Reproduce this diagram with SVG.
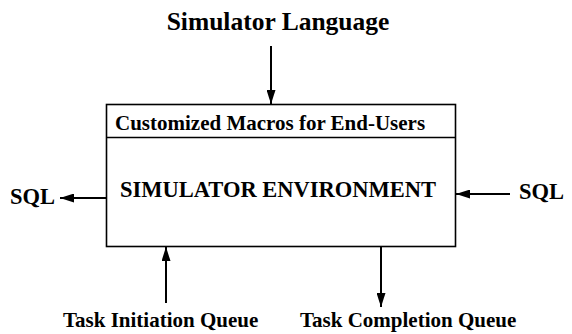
<svg xmlns="http://www.w3.org/2000/svg" width="572" height="334" viewBox="0 0 572 334">
  <defs>
    <marker id="head" viewBox="0 0 14 9" refX="14" refY="4.5" markerWidth="14" markerHeight="9" markerUnits="userSpaceOnUse" orient="auto">
      <path d="M0,0 L14,4.5 L0,9 Z" fill="#000"/>
    </marker>
  </defs>
  <style>
    text { font-family: "Liberation Serif", "Times New Roman", serif; font-weight: bold; fill: #000; }
    .title { font-size: 25.5px; }
    .label { font-size: 21px; }
    .big { font-size: 22.5px; }
    .box { fill: #fff; stroke: #000; stroke-width: 1.6; }
    .conn { stroke: #000; stroke-width: 2; fill: none; marker-end: url(#head); }
  </style>
  <rect width="572" height="334" fill="#fff"/>

  <!-- main environment box with macro header -->
  <g id="environment">
    <rect class="box" x="106.5" y="104.5" width="349" height="142"/>
    <line x1="106.5" y1="137.5" x2="455.5" y2="137.5" stroke="#000" stroke-width="1.4"/>
    <text class="label" x="115" y="130">Customized Macros for End-Users</text>
    <text class="big" x="278" y="197" text-anchor="middle">SIMULATOR ENVIRONMENT</text>
  </g>

  <!-- external sources and sinks -->
  <g id="simulator-language">
    <text class="title" x="278" y="30" text-anchor="middle">Simulator Language</text>
  </g>
  <g id="sql-out">
    <text class="big" x="10" y="204">SQL</text>
  </g>
  <g id="sql-in">
    <text class="big" x="519" y="199">SQL</text>
  </g>
  <g id="task-initiation">
    <text class="label" x="63" y="327">Task Initiation Queue</text>
  </g>
  <g id="task-completion">
    <text class="label" x="300" y="327">Task Completion Queue</text>
  </g>

  <!-- connectors -->
  <g id="connectors">
    <line class="conn" x1="271" y1="46" x2="271" y2="104"/>
    <line class="conn" x1="106" y1="198" x2="60" y2="198"/>
    <line class="conn" x1="510" y1="194" x2="456" y2="194"/>
    <line class="conn" x1="166" y1="303" x2="166" y2="247"/>
    <line class="conn" x1="381" y1="247" x2="381" y2="307"/>
  </g>
</svg>
